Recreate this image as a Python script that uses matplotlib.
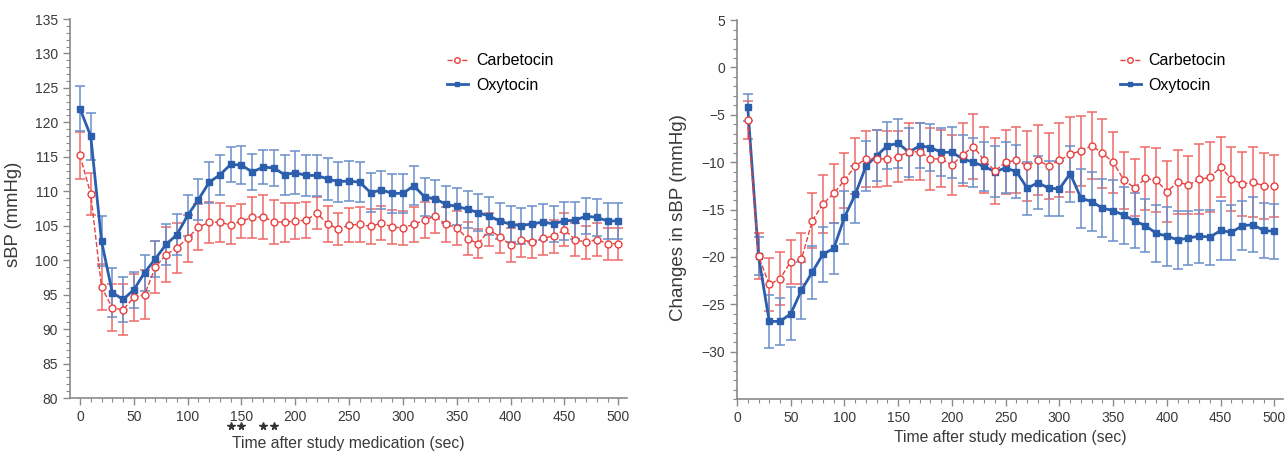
import matplotlib
matplotlib.use("Agg")
import matplotlib.pyplot as plt
import matplotlib.transforms as mtransforms
from matplotlib.ticker import MultipleLocator
import numpy as np

plt.rcParams['font.family'] = ['Liberation Sans', 'DejaVu Sans']

# ---- data ----
# left panel: absolute sBP, every 10 s from 0 to 500
t_abs = np.arange(0, 501, 10)
oxy_abs = [122.0, 118.0, 102.8, 95.3, 94.3, 95.7, 98.2, 100.2, 102.3, 103.7,
           106.5, 108.8, 111.3, 112.4, 113.9, 113.8, 112.8, 113.5, 113.4, 112.4,
           112.7, 112.3, 112.3, 111.8, 111.4, 111.5, 111.3, 109.8, 110.2, 109.7,
           109.7, 110.8, 109.2, 108.9, 108.1, 107.8, 107.4, 106.9, 106.4, 105.7,
           105.2, 105.0, 105.3, 105.5, 105.3, 105.7, 105.8, 106.4, 106.2, 105.7,
           105.7]
oxy_abs_se = [3.3, 3.4, 3.6, 3.5, 3.2, 2.6, 2.6, 2.6, 3.0, 3.0,
              3.0, 3.0, 3.0, 2.9, 2.6, 2.8, 2.6, 2.5, 2.6, 2.9,
              3.1, 3.0, 3.0, 3.1, 2.9, 2.9, 2.9, 2.8, 2.8, 2.8,
              2.8, 2.8, 2.8, 2.7, 2.7, 2.7, 2.7, 2.7, 2.7, 2.6,
              2.6, 2.6, 2.6, 2.6, 2.6, 2.7, 2.7, 2.6, 2.7, 2.6,
              2.6]
carb_abs = [115.2, 109.6, 96.1, 93.1, 92.8, 94.6, 95.0, 99.0, 100.8, 101.8,
            103.2, 104.8, 105.5, 105.5, 105.1, 105.7, 106.2, 106.3, 105.6, 105.5,
            105.7, 105.8, 106.8, 105.3, 104.5, 105.1, 105.2, 104.9, 105.4, 104.8,
            104.7, 105.2, 105.8, 106.4, 105.2, 104.7, 103.1, 102.4, 104.4, 103.4,
            102.2, 102.9, 102.7, 103.2, 103.5, 104.4, 103.0, 102.6, 103.0, 102.4,
            102.4]
carb_abs_se = [3.4, 3.1, 3.3, 3.4, 3.7, 3.4, 3.6, 3.8, 4.0, 3.6,
               3.4, 3.3, 3.0, 2.8, 2.7, 2.5, 3.0, 3.2, 3.2, 2.8,
               2.6, 2.6, 2.3, 2.6, 2.3, 2.5, 2.5, 2.6, 2.5, 2.5,
               2.5, 2.5, 2.6, 2.5, 2.5, 2.5, 2.4, 2.1, 2.4, 2.4,
               2.4, 2.4, 2.4, 2.4, 2.4, 2.4, 2.4, 2.4, 2.4, 2.3,
               2.3]
star_times = [140, 150, 170, 180]

# right panel: change in sBP, every 10 s from 10 to 500
t_chg = np.arange(10, 501, 10)
oxy_chg = [-4.2, -19.9, -26.8, -26.8, -26.0, -23.5, -21.6, -19.7, -19.1, -15.8,
           -13.4, -10.4, -9.3, -8.25, -8.0, -8.95, -8.25, -8.45, -8.95, -8.95,
           -9.65, -10.0, -10.45, -11.0, -10.6, -11.0, -12.75, -12.15, -12.75, -12.8,
           -11.2, -13.8, -14.15, -14.85, -15.1, -15.6, -16.2, -16.7, -17.5, -17.8,
           -18.2, -18.0, -17.8, -17.9, -17.2, -17.4, -16.7, -16.6, -17.2, -17.3]
oxy_chg_se = [1.4, 2.0, 2.8, 2.5, 2.8, 3.0, 2.8, 2.9, 2.7, 2.8,
              3.0, 2.6, 2.7, 2.45, 2.6, 2.6, 2.35, 2.5, 2.55, 2.7,
              2.55, 2.6, 2.6, 2.7, 2.7, 2.8, 2.8, 2.8, 2.9, 2.9,
              2.95, 3.1, 3.1, 3.05, 3.2, 3.0, 2.9, 2.8, 3.0, 3.1,
              3.1, 2.8, 2.8, 2.9, 3.1, 2.9, 2.6, 2.9, 2.9, 2.9]
carb_chg = [-5.5, -19.9, -22.9, -22.3, -20.5, -20.2, -16.2, -14.4, -13.3, -11.9,
            -10.4, -9.65, -9.65, -9.65, -9.4, -8.9, -8.9, -9.65, -9.65, -10.3,
            -9.2, -8.35, -9.8, -10.9, -10.0, -9.8, -10.4, -9.8, -10.4, -9.8,
            -9.15, -8.8, -8.25, -9.05, -10.0, -11.9, -12.7, -11.7, -11.9, -13.1,
            -12.1, -12.4, -11.8, -11.6, -10.5, -11.8, -12.3, -12.1, -12.5, -12.5]
carb_chg_se = [2.0, 2.4, 2.75, 2.8, 2.3, 2.7, 2.9, 3.1, 3.1, 2.9,
               3.0, 2.95, 3.0, 2.9, 2.7, 3.0, 3.0, 3.3, 3.0, 3.15,
               3.3, 3.4, 3.5, 3.5, 3.4, 3.5, 3.7, 3.7, 3.5, 3.9,
               3.95, 3.7, 3.55, 3.65, 3.2, 3.0, 3.0, 3.35, 3.4, 3.2,
               3.4, 3.1, 3.7, 3.7, 3.2, 3.4, 3.4, 3.7, 3.45, 3.3]

RED = '#e8403f'
RED_ERR = '#ef6a68'
BLUE = '#2b5ead'
BLUE_ERR = '#6a8fcb'
AXIS_GREY = '#8a8a8a'
TEXT = '#3a3a3a'


def style_axes(ax, ymin, ymax, xmin, xmax, yticks):
    ax.set_xlim(xmin, xmax)
    ax.set_ylim(ymin, ymax)
    for s in ['top', 'right']:
        ax.spines[s].set_visible(False)
    for s in ['left', 'bottom']:
        ax.spines[s].set_color(AXIS_GREY)
        ax.spines[s].set_linewidth(1.2)
    ax.set_xticks(np.arange(0, 501, 50))
    ax.xaxis.set_minor_locator(MultipleLocator(10))
    ax.set_yticks(yticks)
    ax.yaxis.set_minor_locator(MultipleLocator(1))
    ax.tick_params(which='major', direction='out', length=5, width=1,
                   color=AXIS_GREY, labelcolor=TEXT, labelsize=10)
    ax.tick_params(which='minor', direction='out', length=3, width=0.8,
                   color=AXIS_GREY)


def draw_series(ax, t, carb, carb_se, oxy, oxy_se):
    ax.errorbar(t, carb, yerr=carb_se, fmt='none', ecolor=RED_ERR,
                elinewidth=1.3, capsize=3.5, capthick=1.3, alpha=0.85, zorder=2)
    ax.errorbar(t, oxy, yerr=oxy_se, fmt='none', ecolor=BLUE_ERR,
                elinewidth=1.3, capsize=3.5, capthick=1.3, alpha=0.85, zorder=2)
    ax.plot(t, carb, linestyle='--', color=RED, linewidth=1.0, marker='o',
            markersize=5, markerfacecolor='white', markeredgecolor=RED,
            markeredgewidth=1.0, label='Carbetocin', zorder=4)
    ax.plot(t, oxy, linestyle='-', color=BLUE, linewidth=2.0, marker='s',
            markersize=4.3, markerfacecolor=BLUE, markeredgecolor=BLUE,
            label='Oxytocin', zorder=3)


fig = plt.figure(figsize=(12.86, 4.53), dpi=100)
ax1 = fig.add_axes([0.0544, 0.1214, 0.4331, 0.8366])
ax2 = fig.add_axes([0.5731, 0.1190, 0.4246, 0.8366])

# left panel
draw_series(ax1, t_abs, carb_abs, carb_abs_se, oxy_abs, oxy_abs_se)
style_axes(ax1, 80, 135, -9.3, 508, np.arange(80, 136, 5))
ax1.set_ylabel('sBP (mmHg)', fontsize=13.3, color=TEXT)
ax1.yaxis.set_label_coords(-0.086, 0.485)
ax1.set_xlabel('Time after study medication (sec)', fontsize=11.3, color=TEXT,
               labelpad=9)
trans = mtransforms.blended_transform_factory(ax1.transData, ax1.transAxes)
ax1.plot(star_times, [-0.074] * len(star_times), linestyle='none', marker='*',
         markersize=5.5, color='#333333', transform=trans, clip_on=False)
ax1.legend(loc='upper left', bbox_to_anchor=(0.677, 0.91), frameon=False,
           fontsize=11.5, handlelength=1.3, handletextpad=0.5, labelspacing=0.6,
           borderpad=0, borderaxespad=0, markerscale=0.8)

# right panel
draw_series(ax2, t_chg, carb_chg, carb_chg_se, oxy_chg, oxy_chg_se)
style_axes(ax2, -35, 5, 0, 508, np.arange(-30, 6, 5))
ax2.set_ylabel('Changes in sBP (mmHg)', fontsize=13.5, color=TEXT)
ax2.yaxis.set_label_coords(-0.0916, 0.48)
ax2.set_xlabel('Time after study medication (sec)', fontsize=11.3, color=TEXT,
               labelpad=4)
ax2.legend(loc='upper left', bbox_to_anchor=(0.701, 0.912), frameon=False,
           fontsize=11.5, handlelength=1.3, handletextpad=0.5, labelspacing=0.6,
           borderpad=0, borderaxespad=0, markerscale=0.8)

fig.savefig('out.png', dpi=100)
